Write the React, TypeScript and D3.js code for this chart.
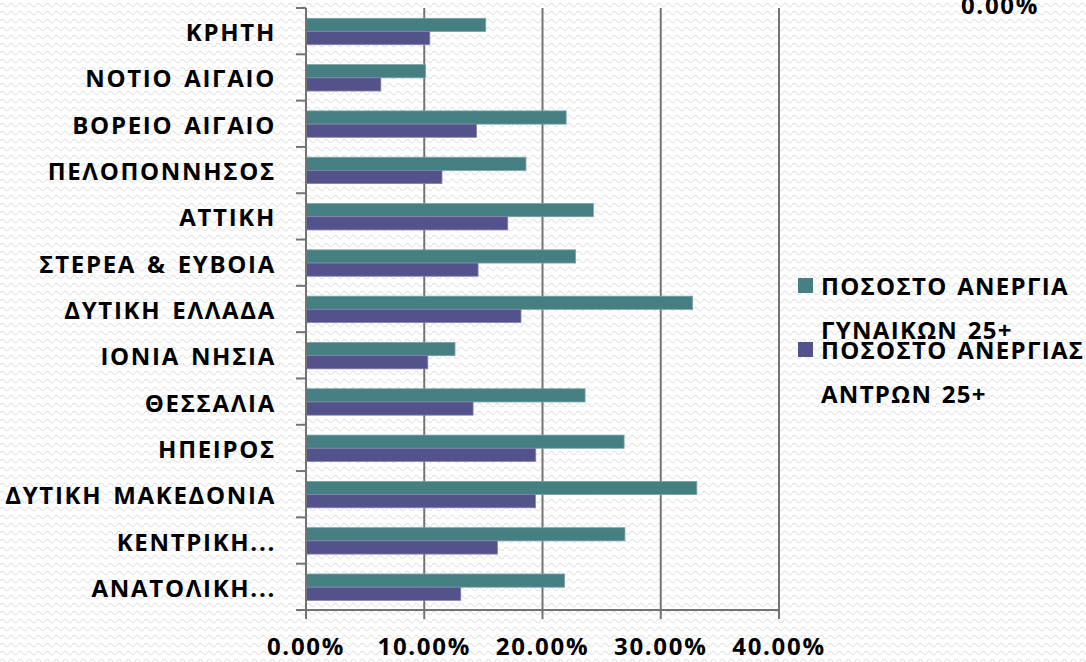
import { useMemo } from "react";
import * as d3 from "d3";

const regions = [
  "ΚΡΗΤΗ",
  "ΝΟΤΙΟ ΑΙΓΑΙΟ",
  "ΒΟΡΕΙΟ ΑΙΓΑΙΟ",
  "ΠΕΛΟΠΟΝΝΗΣΟΣ",
  "ΑΤΤΙΚΗ",
  "ΣΤΕΡΕΑ & ΕΥΒΟΙΑ",
  "ΔΥΤΙΚΗ ΕΛΛΑΔΑ",
  "ΙΟΝΙΑ ΝΗΣΙΑ",
  "ΘΕΣΣΑΛΙΑ",
  "ΗΠΕΙΡΟΣ",
  "ΔΥΤΙΚΗ ΜΑΚΕΔΟΝΙΑ",
  "ΚΕΝΤΡΙΚΗ...",
  "ΑΝΑΤΟΛΙΚΗ...",
];

// women 25+ unemployment rate
const women = [
  0.152, 0.101, 0.22, 0.186, 0.243, 0.228, 0.327, 0.126, 0.236, 0.269, 0.3305,
  0.2697, 0.2187,
];
// men 25+ unemployment rate
const men = [
  0.1047, 0.0633, 0.1442, 0.115, 0.1706, 0.1455, 0.1818, 0.103, 0.1413,
  0.1943, 0.194, 0.1619, 0.1309,
];

const seriesKeys = ["women", "men"];
const seriesColors = ["#457f82", "#54528a"];
const seriesStroke = ["#7aa3a5", "#8583ad"];
const legendLines = [
  ["ΠΟΣΟΣΤΟ ΑΝΕΡΓΙΑ", "ΓΥΝΑΙΚΩΝ 25+"],
  ["ΠΟΣΟΣΤΟ ΑΝΕΡΓΙΑΣ", "ΑΝΤΡΩΝ 25+"],
];
const xTicks = [0, 0.1, 0.2, 0.3, 0.4];

const W = 1086;
const H = 662;
const FONT = "'Open Sans', 'Noto Sans', sans-serif";
const AXIS = "#737373";
const FS = 24;
const LS = 1.7;

const App = () => {
  const x = useMemo(() => d3.scaleLinear().domain([0, 0.4]).range([306, 779]), []);
  const y = useMemo(() => d3.scaleBand().domain(regions).range([8, 610]), []);
  const ySub = useMemo(
    () => d3.scaleBand().domain(seriesKeys).range([10.3, y.bandwidth() - 9.6]),
    [y]
  );
  const values = [women, men];
  const fmt = d3.format(".2%");

  return (
    <svg
      width={W}
      height={H}
      style={{ position: "absolute", left: 0, top: 0 }}
      fontFamily={FONT}
    >
      <defs>
        <pattern id="wave" width="9" height="8" patternUnits="userSpaceOnUse">
          <path
            d="M0,5 Q2.25,1.5 4.5,5 T9,5"
            fill="none"
            stroke="#e2e2e2"
            strokeWidth="1.1"
          />
        </pattern>
      </defs>
      <rect width={W} height={H} fill="#fff" />
      <rect width={W} height={H} fill="url(#wave)" />

      {/* gridlines */}
      {xTicks.slice(1).map((t) => (
        <line
          key={t}
          x1={x(t)}
          x2={x(t)}
          y1={8}
          y2={619}
          stroke={AXIS}
          strokeWidth={2}
        />
      ))}

      {/* bars */}
      {regions.map((r, i) => (
        <g key={r} transform={`translate(0,${y(r)})`}>
          {seriesKeys.map((k, j) => (
            <rect
              key={k}
              x={x(0)}
              y={ySub(k)}
              width={x(values[j][i]) - x(0)}
              height={ySub.bandwidth()}
              fill={seriesColors[j]}
              stroke={seriesStroke[j]}
              strokeWidth={0.8}
            />
          ))}
        </g>
      ))}

      {/* y axis */}
      <line x1={306} x2={306} y1={8} y2={610} stroke={AXIS} strokeWidth={2} />
      {[...regions.map((r) => y(r)), 610].map((v, i) => (
        <line key={i} x1={296} x2={306} y1={v} y2={v} stroke={AXIS} strokeWidth={2} />
      ))}
      {/* x axis */}
      <line x1={305} x2={780} y1={610} y2={610} stroke={AXIS} strokeWidth={2} />
      <line x1={306} x2={306} y1={610} y2={619} stroke={AXIS} strokeWidth={2} />

      <g fontSize={FS} fontWeight="bold" fill="#000" letterSpacing={LS}>
        {regions.map((r) => (
          <text
            key={r}
            x={276}
            y={y(r) + y.bandwidth() / 2 + 10}
            textAnchor="end"
            wordSpacing={3}
          >
            {r}
          </text>
        ))}

        {xTicks.map((t) => (
          <text key={t} x={x(t)} y={655} textAnchor="middle">
            {fmt(t)}
          </text>
        ))}

        {/* clipped label at top right */}
        <text x={1000} y={14} textAnchor="middle">
          {fmt(0)}
        </text>

        {/* legend */}
        {legendLines.map((lines, i) => (
          <g key={i} transform={`translate(798,${278 + i * 64})`}>
            <rect width={15} height={15} fill={seriesColors[i]} />
            {lines.map((l, k) => (
              <text key={k} x={23} y={17 + k * 44} wordSpacing={2} letterSpacing={1.3}>
                {l}
              </text>
            ))}
          </g>
        ))}
      </g>
    </svg>
  );
};

export default App;
